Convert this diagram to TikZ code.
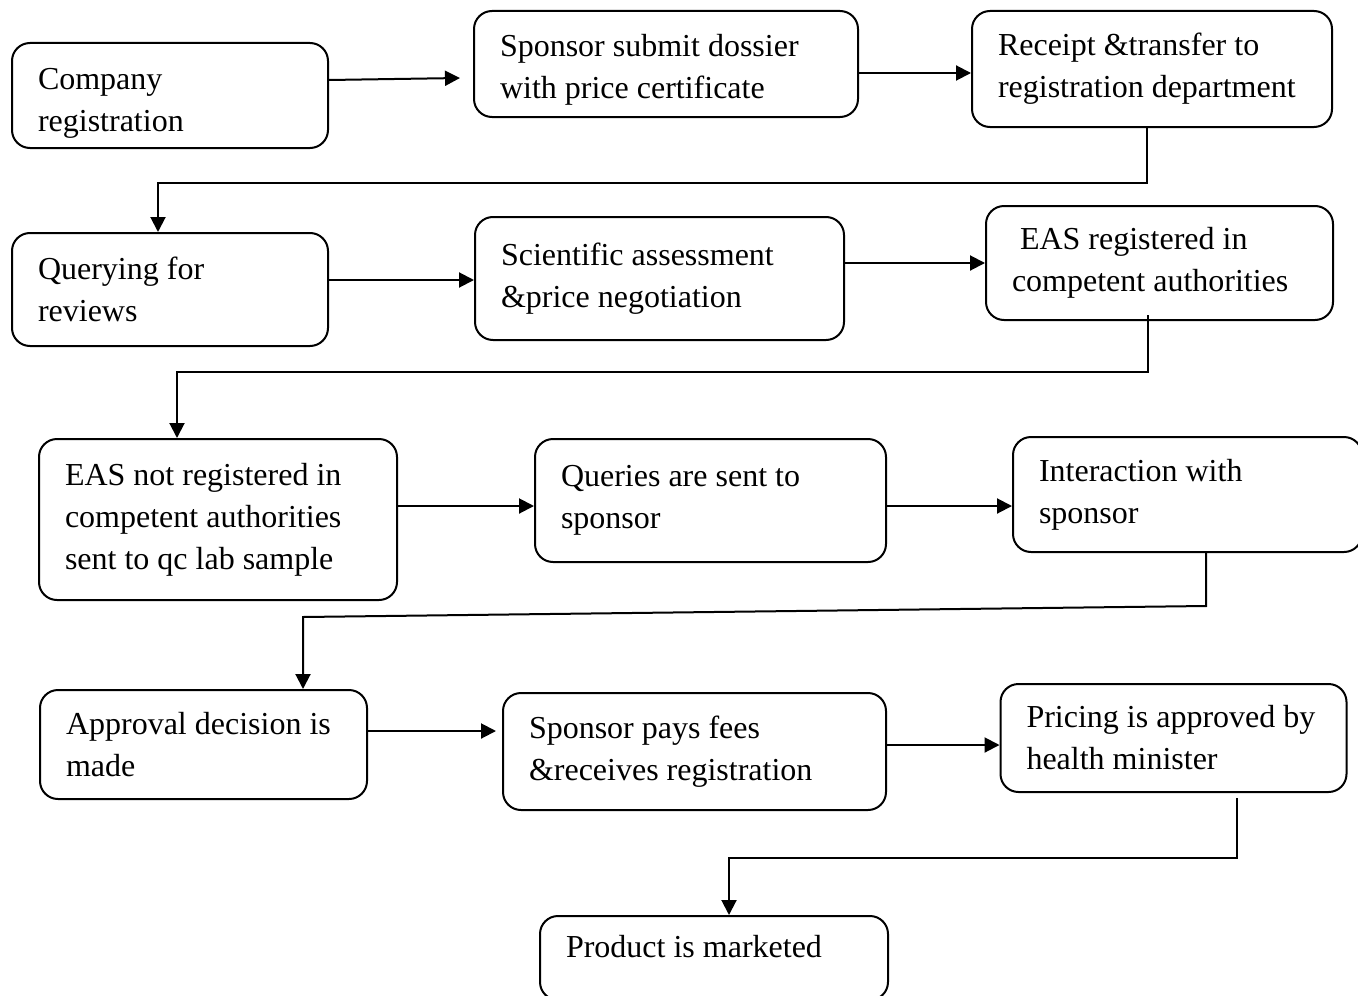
\documentclass[tikz,border=0pt]{standalone}
\usepackage{fontspec}
\setmainfont{Liberation Serif}
\usetikzlibrary{arrows.meta, positioning}

\begin{document}
\begin{tikzpicture}[
    x=0.5pt, y=-0.5pt,
    every node/.style={font=\fontsize{16pt}{21pt}\selectfont},
    stage/.style={rectangle, rounded corners=9pt, draw=black, line width=1pt,
                  align=flush left, inner xsep=13pt, inner ysep=2pt},
    arr/.style={-{Triangle[length=7.5pt, width=7.5pt]}, line width=1pt}
  ]
  \useasboundingbox (0,0) rectangle (1358,995);

  %% Row 1
  \node[stage, minimum width=158pt, minimum height=52.5pt, text width=132pt,
        text height=18pt] (reg) at (170,95.5) {Company\\registration};
  \node[stage, minimum width=192pt, minimum height=53pt, text width=166pt,
        text height=17pt] (dos) at (666,64) {Sponsor submit dossier\\with price certificate};
  \node[stage, minimum width=180pt, minimum height=58pt, text width=154pt]
        (rcpt) at (1152,69) {Receipt \&transfer to\\registration department};

  %% Row 2
  \node[stage, minimum width=158pt, minimum height=56.5pt, text width=132pt]
        (qry) at (170,289.5) {Querying for\\reviews};
  \node[stage, minimum width=184.5pt, minimum height=61.5pt, text width=158.5pt]
        (sci) at (659.5,278.5) {Scientific assessment\\\&price negotiation};
  \node[stage, minimum width=173.5pt, minimum height=57pt, text width=147.5pt]
        (eas) at (1159.5,263) {\hspace*{4pt}EAS registered in\\competent authorities};

  %% Row 3
  \node[stage, minimum width=179pt, minimum height=80.5pt, text width=153pt]
        (neas) at (218,519.5) {EAS not registered in\\competent authorities\\sent to qc lab sample};
  \node[stage, minimum width=175.5pt, minimum height=61.5pt, text width=149.5pt]
        (qs) at (710.5,500.5) {Queries are sent to\\sponsor};
  \node[stage, minimum width=174.5pt, minimum height=57.5pt, text width=148.5pt]
        (inter) at (1187.5,494.5) {Interaction with\\sponsor};

  %% Row 4
  \node[stage, minimum width=163.5pt, minimum height=54.5pt, text width=137.5pt]
        (appr) at (203.5,744.5) {Approval decision is\\made};
  \node[stage, minimum width=191.5pt, minimum height=58.5pt, text width=165.5pt]
        (fees) at (694.5,751.5) {Sponsor pays fees\\\&receives registration};
  \node[stage, minimum width=172.5pt, minimum height=54pt, text width=147pt]
        (price) at (1173.5,738) {Pricing is approved by\\health minister};

  %% Last
  \node[stage, minimum width=174pt, minimum height=42pt, text width=148pt,
        text depth=12pt] (mkt) at (714,958) {Product is marketed};

  %% Rows, left to right
  \draw[arr] ([yshift=7.75pt]reg.east) -- ([xshift=-6.5pt, yshift=-7pt]dos.west);
  \draw[arr] ([yshift=-4.5pt]dos.east) -- ([yshift=-2pt]rcpt.west);
  \draw[arr] ([yshift=4.75pt]qry.east) -- ([yshift=-0.75pt]sci.west);
  \draw[arr] ([yshift=7.75pt]sci.east) -- (eas.west);
  \draw[arr] ([yshift=6.75pt]neas.east) -- ([yshift=-2.75pt]qs.west);
  \draw[arr] ([yshift=-2.75pt]qs.east) -- ([yshift=-5.75pt]inter.west);
  \draw[arr] ([yshift=6.75pt]appr.east) -- ([xshift=-3pt, yshift=10.25pt]fees.west);
  \draw[arr] ([yshift=3.25pt]fees.east) -- ([yshift=-3.5pt]price.west);

  %% Returns to the next row
  \draw[arr] ([xshift=-2.5pt]rcpt.south) -- ++(0,55) -| ([xshift=-6pt]qry.north);
  \draw[arr] ([xshift=-5.75pt, yshift=3pt]eas.south) -- ++(0,57)
             -| ([xshift=-20.5pt]neas.north);
  \draw[arr] ([xshift=9.25pt]inter.south) -- ++(0,53)
             -- ([xshift=49.75pt, yshift=36pt]appr.north) -- ([xshift=49.75pt]appr.north);
  \draw[arr] ([xshift=31.75pt, yshift=-2.5pt]price.south) -- ++(0,60)
             -| ([xshift=7.5pt]mkt.north);

\end{tikzpicture}
\end{document}
